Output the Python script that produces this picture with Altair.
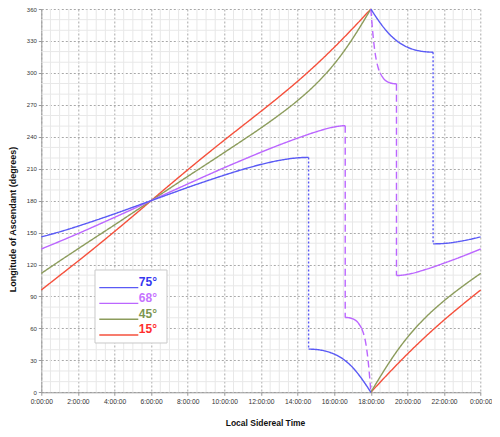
import altair as alt
import pandas as pd

SERIES = ["75°", "68°", "45°", "15°"]
LINE_COLORS = ["#5a5af5", "#bb66ff", "#8c9c5c", "#f5503c"]
TEXT_COLORS = ["#3636f0", "#c673ff", "#7d9650", "#ff2e2e"]

# ---- 15° latitude ----
L15_A_T = [0, 1, 2, 3, 4, 5, 6, 7, 8, 9, 10, 11, 12, 13, 14, 15, 16, 17, 18]
L15_A_V = [96.1, 109.6, 123.1, 136.9, 151.0, 165.4, 180.0, 194.6, 209.0, 223.1,
           236.9, 250.4, 263.9, 277.7, 292.1, 307.5, 324.0, 341.6, 360.0]
L15_B_T = [18, 19, 20, 21, 22, 23, 24]
L15_B_V = [0.0, 18.4, 36.0, 52.5, 67.9, 82.3, 96.1]

# ---- 45° latitude ----
L45_A_T = [0, 1, 2, 3, 4, 5, 6, 7, 8, 9, 10, 11, 12, 13, 14, 15, 16, 16.5, 17, 17.5, 17.75, 18]
L45_A_V = [111.7, 123.3, 134.7, 146.0, 157.2, 168.6, 180.0, 191.4, 202.8, 214.0, 225.3,
           236.7, 248.3, 260.6, 274.0, 289.5, 308.4, 319.6, 332.1, 345.7, 352.8, 360.0]
L45_B_T = [18, 18.25, 18.5, 19, 19.5, 20, 21, 22, 23, 24]
L45_B_V = [0.0, 7.2, 14.3, 27.9, 40.4, 51.6, 70.5, 86.0, 99.4, 111.7]

# ---- 68° latitude ----
L68_A_T = [0, 1, 2, 3, 4, 5, 6, 7, 8, 9, 10, 11, 12, 13, 14, 15, 16, 16.5, 16.6]
L68_A_V = [134.6, 141.7, 149.0, 156.6, 164.3, 172.1, 180.0, 187.9, 195.7, 203.4, 211.0,
           218.3, 225.5, 232.3, 238.7, 244.6, 249.2, 250.3, 250.3]
L68_DROP1_T = [16.6, 16.6]
L68_DROP1_V = [250.3, 70.3]
L68_B_T = [16.6, 16.7, 17.0, 17.25, 17.5]
L68_B_V = [70.3, 70.2, 69.1, 66.4, 60.0]
L68_C_T = [17.5, 17.6, 17.7, 17.8, 17.9, 17.95, 18]
L68_C_V = [60.0, 55.2, 48.2, 37.2, 21.1, 11.0, 0.0]
L68_D_T = [18, 18.05, 18.1, 18.2, 18.3, 18.4, 18.5]
L68_D_V = [360.0, 349.0, 338.9, 322.8, 311.8, 304.8, 300.0]
L68_E_T = [18.5, 18.75, 19.0, 19.3, 19.4]
L68_E_V = [300.0, 293.6, 290.9, 289.8, 289.7]
L68_DROP2_T = [19.4, 19.4]
L68_DROP2_V = [289.7, 109.7]
L68_F_T = [19.4, 19.5, 20, 21, 22, 23, 24]
L68_F_V = [109.7, 109.7, 110.8, 115.4, 121.3, 127.7, 134.6]

# ---- 75° latitude ----
L75_A_T = [0, 1, 2, 3, 4, 5, 6, 7, 8, 9, 10, 11, 12, 13, 14, 14.5, 14.6]
L75_A_V = [146.0, 150.7, 156.0, 161.7, 167.6, 173.8, 180.0, 186.2, 192.4, 198.3, 204.0,
           209.3, 214.0, 217.8, 220.2, 220.6, 220.6]
L75_DROP1_T = [14.6, 14.6]
L75_DROP1_V = [220.6, 40.6]
L75_B_T = [14.6, 15, 15.5, 16, 16.5, 17, 17.5, 17.75, 18]
L75_B_V = [40.6, 40.2, 38.8, 35.9, 31.0, 23.4, 12.8, 6.6, 0.0]
L75_C_T = [18, 18.25, 18.5, 19, 19.5, 20, 20.5, 21, 21.4]
L75_C_V = [360.0, 353.4, 347.2, 336.6, 329.0, 324.1, 321.2, 319.8, 319.4]
L75_DROP2_T = [21.4, 21.4]
L75_DROP2_V = [319.4, 139.4]
L75_D_T = [21.4, 22, 23, 24]
L75_D_V = [139.4, 139.8, 142.2, 146.0]

X_TICKS = [0, 2, 4, 6, 8, 10, 12, 14, 16, 18, 20, 22, 24]
Y_TICKS = [0, 30, 60, 90, 120, 150, 180, 210, 240, 270, 300, 330, 360]
X_MINOR = [h / 2 for h in range(49) if h % 4 != 0]
Y_MINOR = [d for d in range(0, 361, 10) if d % 30 != 0]

curves = [
    ("15°", "solid", L15_A_T, L15_A_V), ("15°", "solid", L15_B_T, L15_B_V),
    ("45°", "solid", L45_A_T, L45_A_V), ("45°", "solid", L45_B_T, L45_B_V),
    ("68°", "solid", L68_A_T, L68_A_V), ("68°", "solid", L68_B_T, L68_B_V),
    ("68°", "dashed", L68_C_T, L68_C_V), ("68°", "dashed", L68_D_T, L68_D_V),
    ("68°", "solid", L68_E_T, L68_E_V), ("68°", "solid", L68_F_T, L68_F_V),
    ("75°", "solid", L75_A_T, L75_A_V), ("75°", "solid", L75_B_T, L75_B_V),
    ("75°", "solid", L75_C_T, L75_C_V), ("75°", "solid", L75_D_T, L75_D_V),
]
drops = [
    ("68°", "dashed", L68_DROP1_T, L68_DROP1_V), ("68°", "dashed", L68_DROP2_T, L68_DROP2_V),
    ("75°", "dotted", L75_DROP1_T, L75_DROP1_V), ("75°", "dotted", L75_DROP2_T, L75_DROP2_V),
]


def build(segs, start=0):
    rows = []
    for i, (s, st, ts, vs) in enumerate(segs):
        for k, (t, v) in enumerate(zip(ts, vs)):
            rows.append({"t": t, "v": v, "series": s, "style": st,
                         "seg": f"{start + i}", "order": k})
    return pd.DataFrame(rows)


df_curves = build(curves)
df_drops = build(drops, 100)

color_scale = alt.Scale(domain=SERIES, range=LINE_COLORS)
dash_scale = alt.Scale(domain=["solid", "dashed", "dotted"], range=[[1, 0], [7, 4], [2, 2]])
xs = alt.Scale(domain=[0, 24], nice=False, zero=False)
ys = alt.Scale(domain=[0, 360], nice=False)

x_axis = alt.Axis(values=X_TICKS, labelExpr="(datum.value % 24) + ':00:00'",
                  labelOverlap=False, labelFlush=False,
                  grid=True, gridDash=[2, 2], gridColor="#a8a8a8", gridWidth=1,
                  tickColor="#999", tickSize=3, domainColor="#999",
                  labelFont="Liberation Sans", labelFontSize=6.7, labelColor="#333",
                  labelPadding=3,
                  title="Local Sidereal Time", titleFont="Liberation Sans",
                  titleFontSize=8.5, titleFontWeight="bold", titleColor="#111",
                  titleX=223.7, titleY=33, titleBaseline="alphabetic", titleAlign="center")
y_axis = alt.Axis(values=Y_TICKS, grid=True, gridDash=[2, 2], gridColor="#a8a8a8", gridWidth=1,
                  labelOverlap=False,
                  tickColor="#999", tickSize=3, domainColor="#999",
                  labelFont="Liberation Sans", labelFontSize=6, labelColor="#333",
                  labelPadding=2,
                  title="Longitude of Ascendant (degrees)", titleFont="Liberation Sans",
                  titleFontSize=9, titleFontWeight="bold", titleColor="#111",
                  titleAngle=270, titleX=-25.3, titleY=210, titleBaseline="alphabetic",
                  titleAlign="center")

minor_v = alt.Chart(pd.DataFrame({"gx": X_MINOR})).mark_rule(
    color="#e8e8e8", strokeWidth=1).encode(x=alt.X("gx:Q", scale=xs, axis=x_axis, title="Local Sidereal Time"))
minor_h = alt.Chart(pd.DataFrame({"gy": Y_MINOR})).mark_rule(
    color="#e8e8e8", strokeWidth=1).encode(y=alt.Y("gy:Q", scale=ys, axis=None))

curve_layer = alt.Chart(df_curves).mark_line(strokeWidth=1.4, interpolate="monotone").encode(
    x=alt.X("t:Q", scale=xs, axis=x_axis, title="Local Sidereal Time"),
    y=alt.Y("v:Q", scale=ys, axis=y_axis),
    color=alt.Color("series:N", scale=color_scale, legend=None),
    strokeDash=alt.StrokeDash("style:N", scale=dash_scale, legend=None),
    detail="seg:N",
    order="order:Q",
)
drop_layer = alt.Chart(df_drops).mark_line(strokeWidth=1.4).encode(
    x=alt.X("t:Q", scale=xs, axis=x_axis, title="Local Sidereal Time"),
    y=alt.Y("v:Q", scale=ys, axis=None),
    color=alt.Color("series:N", scale=color_scale, legend=None),
    strokeDash=alt.StrokeDash("style:N", scale=dash_scale, legend=None),
    detail="seg:N",
    order="order:Q",
)

leg_df = pd.DataFrame({"lab": SERIES, "row": [0, 1, 2, 3], "tcol": TEXT_COLORS})
leg_y = alt.Scale(domain=[0, 3], range=[278.7, 326])
leg_box = alt.Chart(pd.DataFrame({"a": [0]})).mark_rect(
    fill="white", stroke="#c8c8c8", strokeWidth=1).encode(
    x=alt.value(53.7), x2=alt.value(125.7), y=alt.value(261), y2=alt.value(334))
leg_lines = alt.Chart(leg_df).mark_rule(strokeWidth=1.3).encode(
    x=alt.value(58), x2=alt.value(97),
    y=alt.Y("row:Q", scale=leg_y, axis=None),
    color=alt.Color("lab:N", scale=color_scale, legend=None))
leg_text = alt.Chart(leg_df).mark_text(
    align="left", baseline="alphabetic", dy=-1.5, fontSize=12, fontWeight="bold",
    font="Liberation Sans").encode(
    x=alt.value(97.5),
    y=alt.Y("row:Q", scale=leg_y, axis=None),
    text="lab:N",
    color=alt.Color("tcol:N", scale=None))

chart = alt.layer(minor_v, minor_h, curve_layer, drop_layer, leg_box, leg_lines, leg_text).resolve_scale(
    y="independent", color="independent"
).properties(
    width=439.4, height=383.3, autosize="none",
    padding={"left": 33.3, "top": 1, "right": 11.2, "bottom": 36},
    background="white",
).configure_view(stroke=None)

chart.save("out.html", embed_options={"renderer": "svg", "actions": False})
